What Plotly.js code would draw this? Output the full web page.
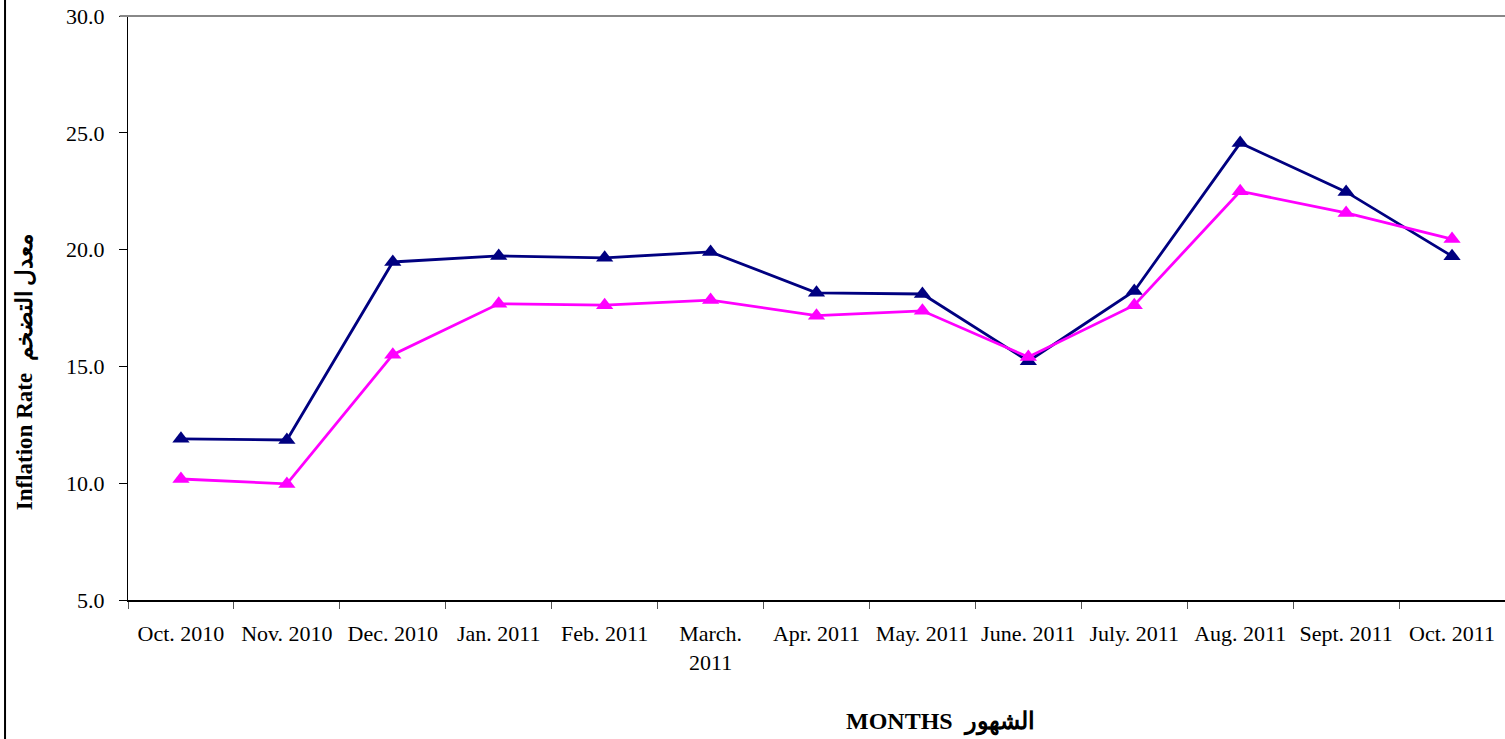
<!DOCTYPE html>
<html>
<head>
<meta charset="utf-8">
<script src="https://cdn.plot.ly/plotly-3.0.1.min.js"></script>
<style>html,body{margin:0;padding:0;background:#fff;}#chart{width:1505px;height:739px;}</style>
</head>
<body>
<div id="chart"></div>
<script>
const months = ["Oct. 2010","Nov. 2010","Dec. 2010","Jan. 2011","Feb. 2011","March.<br>2011","Apr. 2011","May. 2011","June. 2011","July. 2011","Aug. 2011","Sept. 2011","Oct. 2011"];
const seriesNavy = [11.9, 11.85, 19.47, 19.73, 19.65, 19.9, 18.15, 18.1, 15.22, 18.23, 24.56, 22.47, 19.72];
const seriesMagenta = [10.18, 9.97, 15.5, 17.68, 17.62, 17.84, 17.17, 17.38, 15.4, 17.62, 22.5, 21.57, 20.45];
const yTicks = [5, 10, 15, 20, 25, 30];

const font = "Liberation Serif, Times New Roman, serif";
const traces = [
  {x: months, y: seriesNavy, type: "scatter", mode: "lines+markers",
   line: {color: "#000080", width: 2.8}, marker: {symbol: "triangle-up", size: 15, color: "#000080"}, name: "Series 1"},
  {x: months, y: seriesMagenta, type: "scatter", mode: "lines+markers",
   line: {color: "#FF00FF", width: 2.8}, marker: {symbol: "triangle-up", size: 15, color: "#FF00FF"}, name: "Series 2"}
];
const layout = {
  width: 1505, height: 739,
  margin: {l: 128, r: 0, t: 16, b: 139},
  paper_bgcolor: "#fff", plot_bgcolor: "#fff",
  showlegend: false,
  font: {family: font, size: 22, color: "#000"},
  xaxis: {
    type: "category", range: [-0.5, 12.5], tickson: "boundaries",
    ticks: "outside", ticklen: 7, tickcolor: "#555", tickwidth: 1,
    showline: true, linecolor: "#000", linewidth: 1.5, showgrid: false, zeroline: false,
    ticklabelstandoff: 13, tickangle: 0,
    tickfont: {family: font, size: 22, color: "#000"}
  },
  yaxis: {
    range: [5, 30], tickvals: yTicks, tickformat: ".1f",
    ticks: "outside", ticklen: 8, tickcolor: "#000", tickwidth: 1,
    showline: true, linecolor: "#000", linewidth: 1, showgrid: false, zeroline: false,
    ticklabelstandoff: 10,
    tickfont: {family: font, size: 22, color: "#000"}
  },
  shapes: [
    {type: "line", xref: "paper", yref: "paper", x0: -0.006, x1: 1, y0: 1, y1: 1, line: {color: "#888", width: 2}},
    {type: "line", xref: "paper", yref: "paper", x0: -0.0893, x1: -0.0893, y0: -0.25, y1: 1.05, line: {color: "#000", width: 2}}
  ],
  annotations: [
    {text: "<b>Inflation Rate  معدل التضخم</b>", xref: "paper", yref: "paper", x: -0.0748, y: 0.39,
     xanchor: "center", yanchor: "middle", textangle: -90, showarrow: false,
     font: {family: font, size: 23, color: "#000"}},
    {text: "<b>MONTHS  الشهور</b>", xref: "paper", yref: "paper", x: 0.5897, y: -0.209,
     xanchor: "center", yanchor: "middle", showarrow: false,
     font: {family: font, size: 24, color: "#000"}}
  ]
};
Plotly.newPlot("chart", traces, layout, {displayModeBar: false, staticPlot: true});
</script>
</body>
</html>
